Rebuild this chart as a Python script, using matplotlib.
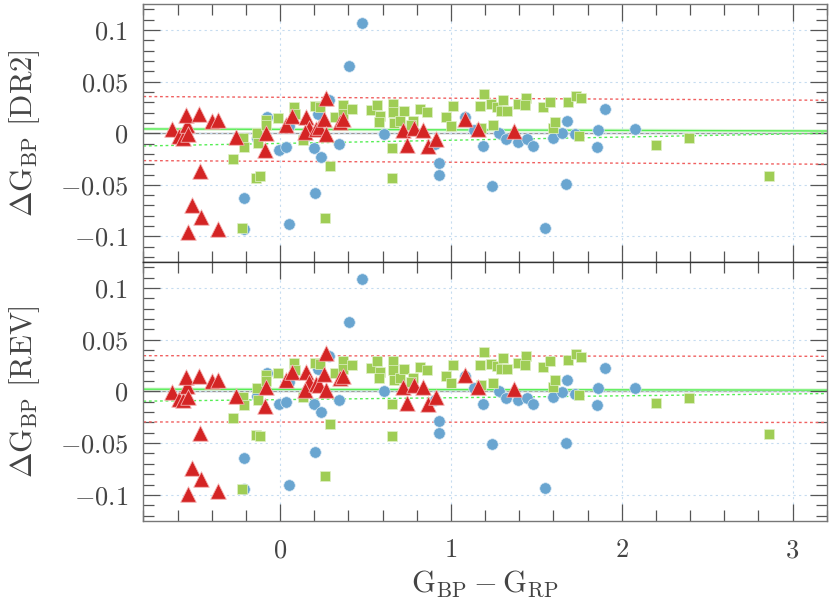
import numpy as np
import matplotlib
matplotlib.use('Agg')
import matplotlib.pyplot as plt
from matplotlib.ticker import MultipleLocator, FuncFormatter

plt.rcParams['mathtext.fontset'] = 'cm'
plt.rcParams['font.family'] = ['cmr10', 'DejaVu Sans']
plt.rcParams['axes.unicode_minus'] = False

# ---- data ----
# blue circles
blue_x = [-0.210, -0.210, -0.078, -0.136, -0.005, 0.034, 0.053, 0.053, 0.143, 0.201,
          0.240, 0.224, 0.289, 0.344, 0.207, 0.403, 0.479, 0.607, 0.905, 0.930,
          0.930, 1.080, 1.135, 1.188, 1.240, 1.281, 1.320, 1.393, 1.447, 1.480,
          1.549, 1.598, 1.650, 1.680, 1.676, 1.729, 1.858, 1.861, 1.900, 2.076]
blue_dr2 = [-0.063, -0.093, 0.016, -0.005, -0.016, -0.013, 0.007, -0.088, -0.005, -0.014,
            -0.023, 0.019, 0.032, -0.010, -0.058, 0.065, 0.107, -0.001, -0.010, -0.029,
            -0.040, 0.016, 0.003, -0.012, -0.051, 0.000, -0.006, -0.008, -0.006, -0.012,
            -0.092, -0.005, 0.000, 0.012, -0.049, -0.001, -0.013, 0.003, 0.024, 0.004]
blue_rev = [-0.064, -0.094, 0.018, -0.004, -0.012, -0.010, 0.009, -0.090, -0.003, -0.012,
            -0.020, 0.022, 0.034, -0.008, -0.059, 0.067, 0.109, 0.000, -0.008, -0.029,
            -0.040, 0.015, 0.003, -0.012, -0.051, 0.000, -0.006, -0.008, -0.006, -0.012,
            -0.093, -0.005, -0.001, 0.011, -0.050, -0.002, -0.013, 0.003, 0.023, 0.003]

# green squares
green_x = [-0.277, -0.219, -0.210, -0.224, -0.140, -0.120, -0.134, -0.127, -0.082, -0.080,
           -0.014, 0.080, 0.085, 0.135, 0.207, 0.235, 0.291, 0.266, 0.322, 0.367,
           0.367, 0.422, 0.531, 0.567, 0.586, 0.580, 0.660, 0.664, 0.670, 0.705,
           0.723, 0.657, 0.656, 0.777, 0.768, 0.819, 0.858, 0.973, 1.014, 0.999,
           1.168, 1.192, 1.178, 1.234, 1.272, 1.307, 1.295, 1.327, 1.393, 1.442,
           1.432, 1.539, 1.578, 1.244, 1.598, 1.612, 1.686, 1.735, 1.764, 1.750,
           2.203, 2.395, 2.861]
green_dr2 = [-0.025, -0.005, -0.013, -0.092, -0.043, -0.041, 0.000, -0.009, 0.013, 0.008,
             0.015, 0.025, 0.019, -0.007, 0.026, 0.025, -0.032, -0.082, 0.016, 0.027,
             0.019, 0.024, 0.023, 0.027, 0.017, 0.011, 0.028, 0.021, 0.010, 0.012,
             0.022, -0.014, -0.043, 0.012, 0.008, 0.024, 0.021, 0.016, 0.026, 0.007,
             0.026, 0.038, 0.005, 0.028, 0.025, 0.032, 0.022, 0.022, 0.028, 0.034,
             0.027, 0.025, 0.030, 0.008, 0.005, 0.011, 0.030, 0.036, 0.034, -0.003,
             -0.011, -0.005, -0.041]
green_rev = [-0.026, -0.005, -0.013, -0.094, -0.042, -0.043, 0.003, -0.008, 0.016, 0.010,
             0.018, 0.028, 0.021, -0.005, 0.028, 0.027, -0.031, -0.082, 0.018, 0.029,
             0.022, 0.026, 0.023, 0.029, 0.019, 0.013, 0.029, 0.021, 0.011, 0.013,
             0.022, -0.012, -0.043, 0.013, 0.009, 0.024, 0.021, 0.015, 0.026, 0.008,
             0.026, 0.038, 0.006, 0.027, 0.025, 0.032, 0.022, 0.022, 0.028, 0.034,
             0.026, 0.024, 0.029, 0.008, 0.004, 0.011, 0.030, 0.036, 0.033, -0.003,
             -0.011, -0.006, -0.041]

# red triangles
red_x = [-0.630, -0.589, -0.570, -0.546, -0.540, -0.552, -0.474, -0.396, -0.361, -0.470,
         -0.517, -0.464, -0.537, -0.361, -0.256, -0.081, -0.089, 0.036, 0.072, 0.153,
         0.172, 0.149, 0.211, 0.227, 0.256, 0.270, 0.270, 0.352, 0.367, 0.719,
         0.742, 0.787, 0.836, 0.869, 0.914, 1.080, 1.158, 1.369]
red_dr2 = [0.004, -0.003, -0.005, 0.008, -0.001, 0.018, 0.019, 0.012, 0.013, -0.037,
           -0.070, -0.081, -0.096, -0.093, -0.004, 0.000, -0.016, 0.008, 0.017, 0.016,
           0.005, 0.001, 0.004, 0.006, 0.014, -0.001, 0.034, 0.011, 0.014, 0.003,
           -0.011, 0.005, 0.003, -0.012, -0.006, 0.014, 0.004, 0.002]
red_rev = [-0.001, -0.007, -0.008, 0.005, -0.005, 0.014, 0.015, 0.010, 0.011, -0.040,
           -0.074, -0.085, -0.099, -0.096, -0.004, 0.004, -0.014, 0.011, 0.019, 0.019,
           0.009, 0.001, 0.007, 0.006, 0.017, 0.001, 0.037, 0.013, 0.015, 0.004,
           -0.011, 0.006, 0.004, -0.012, -0.005, 0.016, 0.004, 0.002]

# reference lines (value at x=-0.8 and x=3.2)
line_x = [-0.8, 3.2]
fit_dr2 = [0.0042, 0.0022]
fitdot_dr2 = [-0.0123, 0.0]
hi_dr2 = [0.0356, 0.032]
lo_dr2 = [-0.0265, -0.030]
fit_rev = [0.0022, 0.0013]
fitdot_rev = [-0.0094, -0.002]
hi_rev = [0.0346, 0.034]
lo_rev = [-0.0295, -0.030]

c_blue = '#69a5d0'
c_green = '#9fcd55'
c_red = '#d42424'

fig = plt.figure(figsize=(8.31, 6.07), dpi=100)
ax1 = fig.add_axes([0.1725, 0.5680, 0.8223, 0.4249])
ax2 = fig.add_axes([0.1725, 0.1422, 0.8223, 0.4258], sharex=ax1)


def draw(ax, by, gy, ry, fit, fitdot, hi, lo, label):
    ax.grid(True, which='major', color='#c6dcf0', linestyle=(0, (2, 3)), linewidth=0.8)
    ax.axhline(0, color='#999999', lw=1.0, zorder=1)
    ax.plot(line_x, fit, color='#c4f2bc', lw=2.5, alpha=0.6, zorder=1)
    ax.plot(line_x, fit, color='#55ee55', lw=1.0, zorder=2)
    ax.plot(line_x, fitdot, color='#55ee55', lw=1.0, ls=(0, (2, 2)), zorder=2)
    ax.plot(line_x, hi, color='#f06060', lw=1.0, ls=(0, (2, 2)), zorder=2)
    ax.plot(line_x, lo, color='#f06060', lw=1.0, ls=(0, (2, 2)), zorder=2)
    ax.scatter(blue_x, by, s=68, marker='o', color=c_blue, edgecolors='#d8e8f4',
               linewidths=0.5, zorder=3)
    ax.scatter(green_x, gy, s=55, marker='s', color=c_green, edgecolors='#e0f0c8',
               linewidths=0.5, zorder=3)
    ax.scatter(red_x, ry, s=125, marker='^', color=c_red, edgecolors='#f4b0b0',
               linewidths=0.6, zorder=4)
    ax.set_xlim(-0.8, 3.2)
    ax.set_ylim(-0.125, 0.125)
    ax.xaxis.set_major_locator(MultipleLocator(1))
    ax.xaxis.set_minor_locator(MultipleLocator(0.2))
    ax.yaxis.set_major_locator(MultipleLocator(0.05))
    ax.yaxis.set_minor_locator(MultipleLocator(0.01))
    ax.tick_params(which='both', direction='in', top=True, right=True,
                   colors='#555555', labelcolor='#444444', labelsize=19)
    ax.tick_params(which='major', length=12, width=0.9)
    ax.tick_params(which='minor', length=8, width=0.9)
    ax.tick_params(axis='y', pad=11)
    ax.tick_params(axis='x', pad=13)
    ax.yaxis.set_major_formatter(FuncFormatter(
        lambda v, p: '$0$' if abs(v) < 1e-9 else '$%g$' % round(v, 3)))
    ax.xaxis.set_major_formatter(FuncFormatter(lambda v, p: '$%g$' % round(v, 3)))
    for s in ax.spines.values():
        s.set_color('#777777')
        s.set_linewidth(1.0)
    ax.set_ylabel(label, fontsize=22, color='#444444')
    ax.yaxis.set_label_coords(-0.148, 0.5)


draw(ax1, blue_dr2, green_dr2, red_dr2, fit_dr2, fitdot_dr2, hi_dr2, lo_dr2,
     r'$\Delta\mathrm{G}_{\mathrm{BP}}\ \mathrm{[DR2]}$')
draw(ax2, blue_rev, green_rev, red_rev, fit_rev, fitdot_rev, hi_rev, lo_rev,
     r'$\Delta\mathrm{G}_{\mathrm{BP}}\ \mathrm{[REV]}$')
ax1.tick_params(labelbottom=False)
ax1.spines['bottom'].set_color('#333333')
ax2.spines['top'].set_color('#333333')
ax2.set_xlabel(r'$\mathrm{G}_{\mathrm{BP}}-\mathrm{G}_{\mathrm{RP}}$', fontsize=22,
               color='#444444', labelpad=4)

fig.savefig('out.png', dpi=100)
